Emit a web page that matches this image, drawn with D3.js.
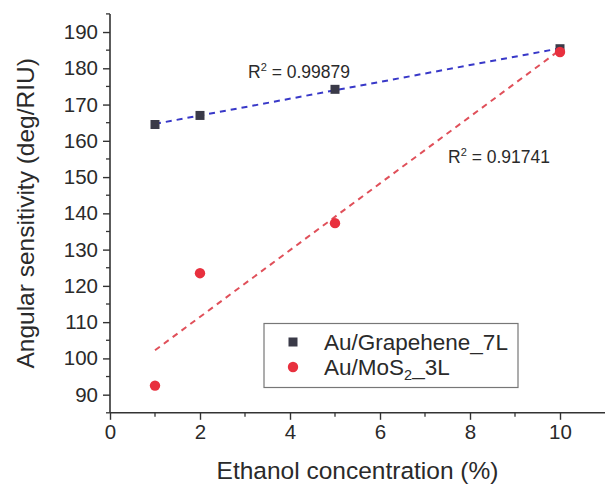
<!DOCTYPE html>
<html><head><meta charset="utf-8">
<script src="https://cdn.jsdelivr.net/npm/d3@7/dist/d3.min.js"></script>
<style>
html,body{margin:0;padding:0;background:#fff;}
svg{display:block;font-family:"Liberation Sans",Arial,sans-serif;}
</style></head>
<body>
<script>
const concentrations = [1, 2, 5, 10];
const grapheneValues = [164.5, 167.0, 174.2, 185.4];
const mos2Values = [92.5, 123.5, 137.3, 184.5];
const xTicks = [0, 2, 4, 6, 8, 10];
const yTicks = [90, 100, 110, 120, 130, 140, 150, 160, 170, 180, 190];
const r2Labels = ["0.99879", "0.91741"];

const W = 606, H = 484;
const svg = d3.select("body").append("svg").attr("width", W).attr("height", H);

const x = d3.scaleLinear().domain([0, 11]).range([110, 605]);
const y = d3.scaleLinear().domain([85, 195]).range([412.8, 13.9]);

const axisColor = "#333";
const textColor = "#2a2a2a";

function fit(xs, ys) {
  const n = xs.length, mx = d3.mean(xs), my = d3.mean(ys);
  let sxy = 0, sxx = 0;
  for (let i = 0; i < n; i++) { sxy += (xs[i]-mx)*(ys[i]-my); sxx += (xs[i]-mx)**2; }
  const b = sxy / sxx; return { a: my - b*mx, b };
}
const fg = fit(concentrations, grapheneValues);
const fm = fit(concentrations, mos2Values);
const x0 = d3.min(concentrations), x1 = d3.max(concentrations);

svg.append("line")
  .attr("x1", x(x0)).attr("y1", y(fm.a + fm.b*x0))
  .attr("x2", x(x1)).attr("y2", y(fm.a + fm.b*x1))
  .attr("stroke", "#e0505a").attr("stroke-width", 2).attr("stroke-dasharray", "6,5");
svg.append("line")
  .attr("x1", x(x0)).attr("y1", y(fg.a + fg.b*x0))
  .attr("x2", x(x1)).attr("y2", y(fg.a + fg.b*x1))
  .attr("stroke", "#3838c8").attr("stroke-width", 2).attr("stroke-dasharray", "6,5");

const xAxis = d3.axisBottom(x).tickValues(xTicks).tickSize(7).tickPadding(5).tickFormat(d3.format("d"));
const gx = svg.append("g").attr("transform", `translate(0,${y(85)})`).call(xAxis);
const yAxis = d3.axisLeft(y).tickValues(yTicks).tickSize(7).tickPadding(5).tickFormat(d3.format("d"));
const gy = svg.append("g").attr("transform", `translate(${x(0)},0)`).call(yAxis);

[gx, gy].forEach(g => {
  g.select(".domain").attr("stroke", axisColor).attr("stroke-width", 1.6);
  g.selectAll(".tick line").attr("stroke", axisColor).attr("stroke-width", 1.4);
  g.selectAll(".tick text").attr("fill", textColor).style("font-size", "20.5px")
    .style("font-family", '"Liberation Sans",Arial,sans-serif');
});
gy.select(".domain").attr("d", `M-0,${y(85)}V${y(195)}`);
gx.select(".domain").attr("d", `M${x(0)},0H${x(11)}`);

const xMinor = d3.range(1, 11, 2);
svg.append("g").selectAll("line").data(xMinor).join("line")
  .attr("x1", d => x(d)).attr("x2", d => x(d))
  .attr("y1", y(85)).attr("y2", y(85) + 4)
  .attr("stroke", axisColor).attr("stroke-width", 1.3);
const yMinor = d3.range(85, 196, 10);
svg.append("g").selectAll("line").data(yMinor).join("line")
  .attr("x1", x(0)).attr("x2", x(0) - 4)
  .attr("y1", d => y(d)).attr("y2", d => y(d))
  .attr("stroke", axisColor).attr("stroke-width", 1.3);

svg.append("g").selectAll("rect").data(concentrations).join("rect")
  .attr("x", (d) => x(d) - 4.5).attr("y", (d, i) => y(grapheneValues[i]) - 4.5)
  .attr("width", 9).attr("height", 9).attr("fill", "#3a3a48");
svg.append("g").selectAll("circle").data(concentrations).join("circle")
  .attr("cx", d => x(d)).attr("cy", (d, i) => y(mos2Values[i]))
  .attr("r", 5.2).attr("fill", "#e8303e");

function r2(xp, yp, val) {
  const t = svg.append("text").attr("x", xp).attr("y", yp).attr("fill", textColor).style("font-size", "17.5px");
  t.append("tspan").text("R");
  t.append("tspan").attr("dy", -7).style("font-size", "11px").text("2");
  t.append("tspan").attr("dy", 7).text(" = " + val);
}
r2(248, 78, r2Labels[0]);
r2(448, 163, r2Labels[1]);

svg.append("rect").attr("x", 264).attr("y", 323.5).attr("width", 254).attr("height", 64)
  .attr("fill", "#fff").attr("stroke", "#777").attr("stroke-width", 1.2);
svg.append("rect").attr("x", 293 - 4.5).attr("y", 342 - 4.5).attr("width", 9).attr("height", 9).attr("fill", "#3a3a48");
svg.append("circle").attr("cx", 293).attr("cy", 367).attr("r", 5.2).attr("fill", "#e8303e");
svg.append("text").attr("x", 324).attr("y", 350).attr("fill", textColor).style("font-size", "22.5px").text("Au/Grapehene_7L");
const l2 = svg.append("text").attr("x", 324).attr("y", 375).attr("fill", textColor).style("font-size", "22.5px");
l2.append("tspan").text("Au/MoS");
l2.append("tspan").attr("dy", 5).style("font-size", "14.5px").text("2");
l2.append("tspan").attr("dy", -5).text("_3L");

svg.append("text").attr("x", x(5.5)).attr("y", 479).attr("text-anchor", "middle")
  .attr("fill", textColor).style("font-size", "24.5px").text("Ethanol concentration (%)");
svg.append("text").attr("transform", `translate(34,${(y(85)+y(195))/2}) rotate(-90)`)
  .attr("text-anchor", "middle").attr("fill", textColor).style("font-size", "24.5px")
  .text("Angular sensitivity (deg/RIU)");
</script>
</body></html>
